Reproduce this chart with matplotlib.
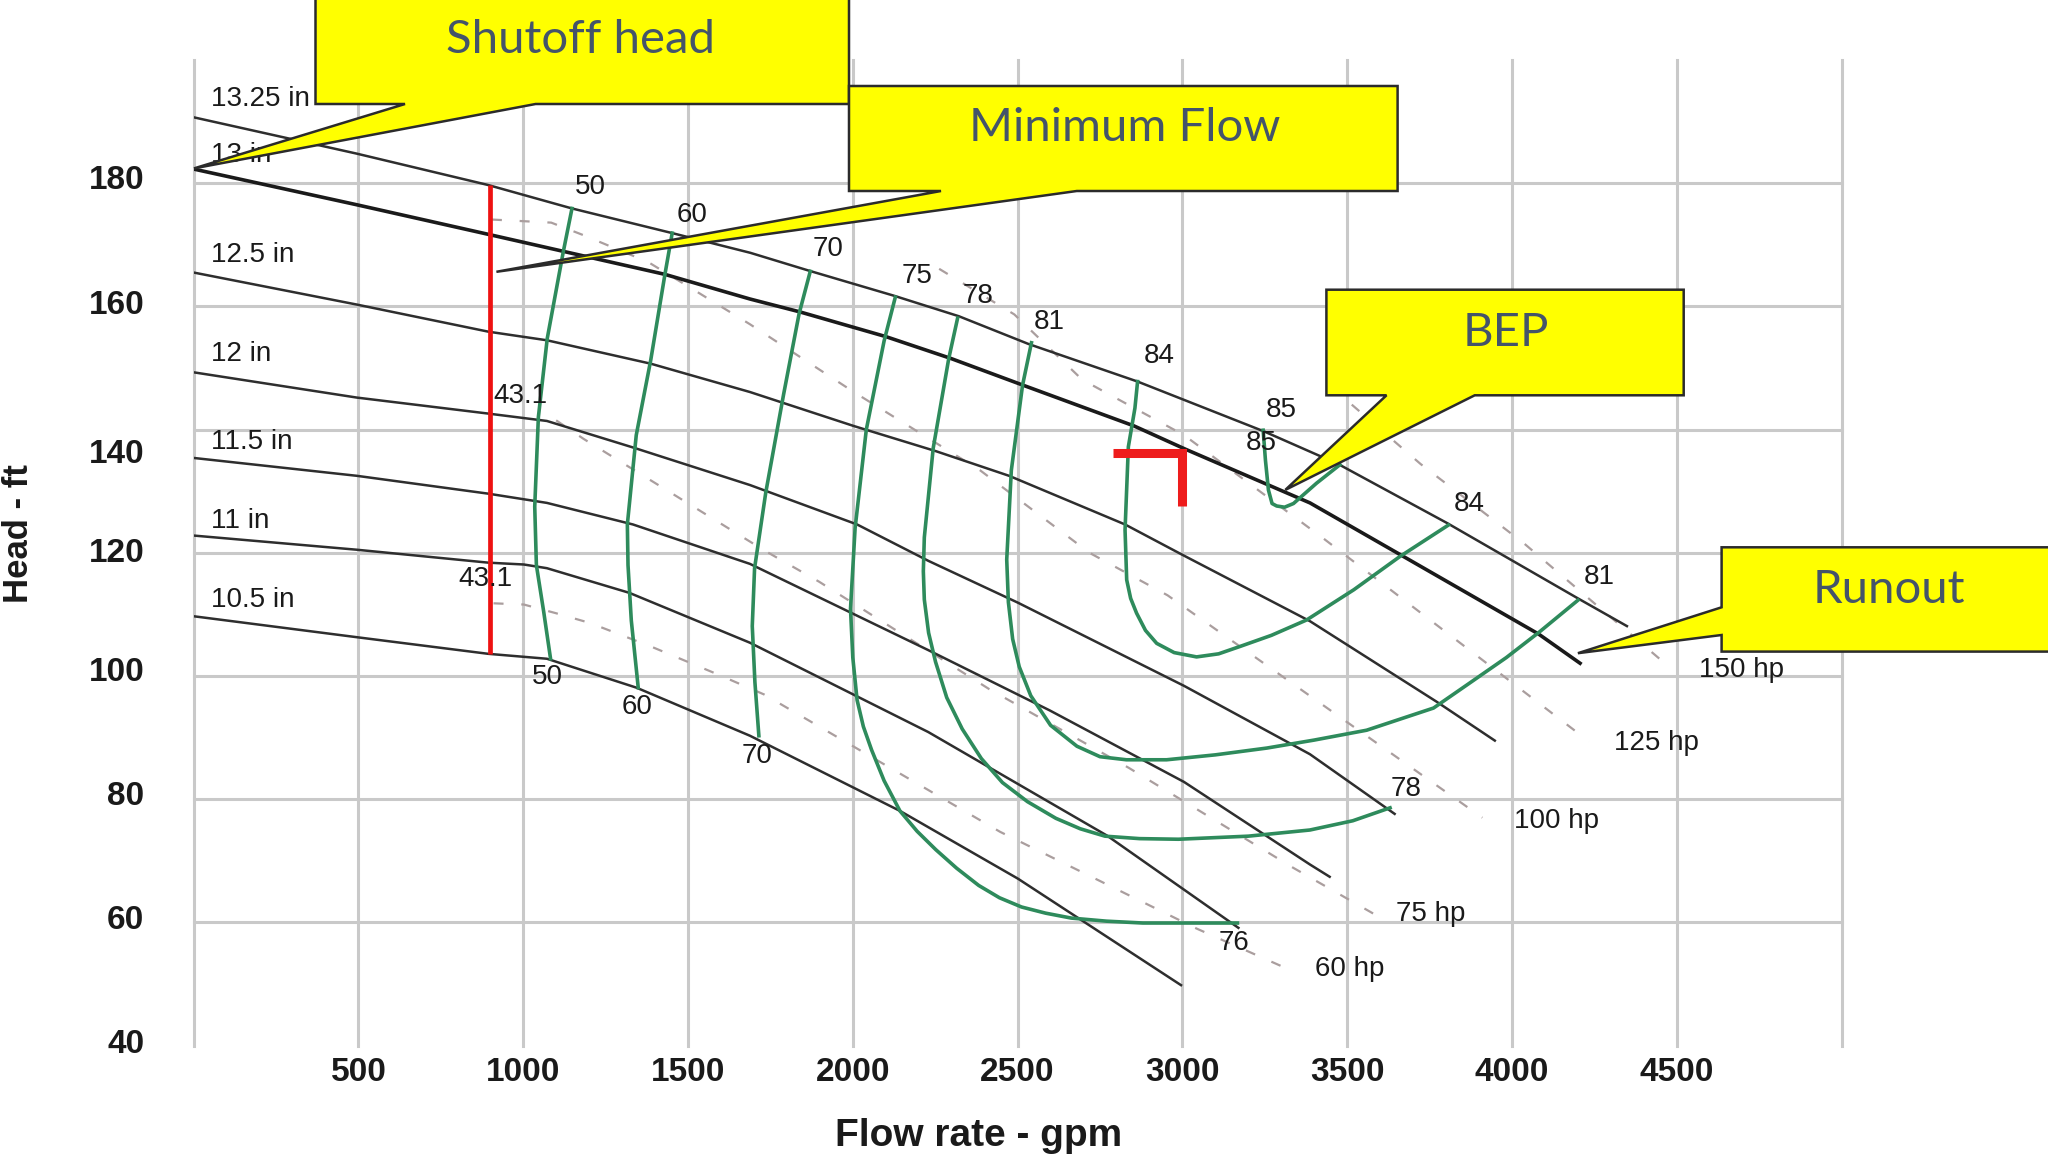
import matplotlib
matplotlib.use("Agg")
import matplotlib.pyplot as plt
from matplotlib.patches import Polygon

# ---------------- data (flow gpm, head ft) ----------------
# impeller diameter curves
q_d1325 = [0, 495, 894, 1148, 1452, 1689, 1867, 2127, 2322, 2533, 2864, 3248, 3473, 3804, 4200, 4352]
h_d1325 = [190.7, 184.8, 179.7, 175.9, 171.9, 168.7, 165.8, 161.7, 158.4, 153.9, 147.8, 139.7, 134.4, 124.8, 112.6, 108.0]
q_d13 = [0, 495, 894, 1430, 1688, 1840, 2100, 2295, 2517, 2853, 3010, 3387, 3674, 4081, 4211]
h_d13 = [182.3, 176.5, 171.7, 165.2, 161.2, 159.1, 155.1, 151.6, 147.2, 140.6, 136.8, 128.1, 119.3, 106.8, 101.9]
q_d125 = [0, 495, 894, 1072, 1387, 1688, 2002, 2252, 2474, 2826, 2999, 3387, 3772, 3951]
h_d125 = [165.5, 160.3, 155.9, 154.5, 150.7, 146.1, 140.6, 136.5, 132.5, 124.6, 119.7, 108.9, 95.8, 89.4]
q_d12 = [0, 495, 894, 1072, 1333, 1688, 2013, 2229, 2501, 3005, 3387, 3647]
h_d12 = [149.3, 145.2, 142.6, 141.4, 137.1, 131.0, 124.6, 118.7, 111.9, 98.4, 87.3, 77.5]
q_d115 = [0, 495, 894, 1072, 1333, 1688, 2229, 2598, 3005, 3387, 3450]
h_d115 = [135.4, 132.5, 129.6, 128.1, 124.6, 118.2, 104.2, 94.4, 82.8, 69.4, 67.3]
q_d11 = [0, 495, 894, 1002, 1072, 1322, 1688, 2229, 2771, 3173]
h_d11 = [122.8, 120.5, 118.4, 118.1, 117.5, 113.5, 105.4, 90.9, 74.1, 59.0]
q_d105 = [0, 495, 894, 1072, 1344, 1688, 2143, 2501, 2999]
h_d105 = [109.7, 106.3, 103.6, 102.8, 98.1, 90.3, 78.1, 67.1, 49.7]
diam_labels = ["13.25 in", "13 in", "12.5 in", "12 in", "11.5 in", "11 in", "10.5 in"]
diam_label_h = [193.6, 184.6, 168.4, 152.2, 138.0, 125.2, 112.4]

# efficiency curves (%)
q_e50 = [1148, 1121, 1073, 1046, 1035, 1040, 1062, 1083]
h_e50 = [175.9, 168.7, 154.8, 142.0, 127.5, 118.0, 110.5, 102.8]
q_e60 = [1452, 1430, 1387, 1343, 1316, 1318, 1328, 1349]
h_e60 = [171.9, 165.2, 151.3, 139.1, 124.6, 118.0, 109.0, 98.1]
q_e70 = [1871, 1837, 1790, 1736, 1702, 1695, 1703, 1715]
h_e70 = [165.7, 158.8, 145.7, 129.8, 117.5, 108.1, 99.0, 90.3]
q_e75 = [2129, 2095, 2041, 2007, 1993, 2000, 2013, 2032, 2057, 2095, 2143, 2195, 2252, 2315, 2382, 2445,
         2512, 2585, 2663, 2770, 2880, 3167]
h_e75 = [161.5, 154.4, 140.0, 124.0, 110.9, 103.0, 96.1, 91.8, 88.0, 83.0, 78.1, 74.8, 71.8, 68.8, 66.0, 64.0,
         62.5, 61.5, 60.7, 60.2, 59.9, 59.9]
q_e78 = [2318, 2291, 2244, 2217, 2214, 2217, 2230, 2251, 2285, 2332, 2390, 2454, 2530, 2616, 2690, 2765,
         2870, 2988, 3200, 3387, 3517, 3630]
h_e78 = [158.1, 151.5, 137.0, 122.5, 117.0, 112.4, 107.0, 102.3, 96.5, 91.4, 86.6, 82.7, 79.6, 76.9, 75.2, 74.0,
         73.6, 73.5, 74.0, 75.0, 76.5, 78.6]
q_e81 = [2542, 2515, 2481, 2467, 2472, 2485, 2505, 2540, 2600, 2680, 2750, 2830, 2952, 3100, 3256, 3400, 3559,
         3762, 3870, 3983, 4082, 4200]
h_e81 = [154.1, 147.2, 133.4, 118.9, 112.0, 106.0, 101.5, 96.8, 92.0, 88.6, 86.9, 86.4, 86.4, 87.2, 88.3, 89.6,
         91.2, 94.8, 98.8, 103.0, 107.1, 112.3]
q_e84 = [2864, 2856, 2836, 2826, 2831, 2843, 2861, 2888, 2922, 2975, 3043, 3110, 3175, 3270, 3377, 3520, 3660, 3807]
h_e84 = [147.8, 143.5, 137.2, 123.7, 115.6, 112.6, 110.2, 107.4, 105.3, 103.8, 103.1, 103.6, 104.8, 106.6, 109.1,
         114.0, 119.4, 124.5]
q_e85 = [3245, 3252, 3261, 3272, 3286, 3310, 3337, 3407, 3478]
h_e85 = [139.9, 135.0, 130.2, 128.0, 127.6, 127.4, 128.0, 131.3, 134.3]

eff_labels = ["50", "60", "70", "75", "78", "81", "84", "85", "85",
              "50", "60", "70", "76", "78", "81", "84"]
eff_label_q = [1203, 1512, 1925, 2196, 2379, 2596, 2929, 3299, 3239,
               1072, 1344, 1709, 3156, 3680, 4265, 3869]
eff_label_h = [179.4, 174.8, 169.3, 164.9, 161.7, 157.5, 151.9, 143.2, 137.8,
               99.9, 95.0, 87.0, 56.7, 81.6, 116.1, 128.0]

# power (hp) lines
q_p150 = [3450, 3723, 4037, 4487]
h_p150 = [147.0, 134.4, 121.5, 101.0]
q_p125 = [2262, 2490, 2696, 3005, 3431, 4233]
h_p125 = [166.1, 158.7, 148.1, 139.1, 122.2, 89.4]
q_p100 = [905, 1085, 1181, 1379, 1505, 1688, 2003, 2386, 2718, 2955, 3910]
h_p100 = [174.1, 173.6, 171.6, 167.2, 163.1, 157.1, 146.1, 133.4, 120.0, 113.1, 77.0]
q_p75 = [1100, 1183, 1731, 1898, 2413, 2837, 3335, 3590]
h_p75 = [141.5, 138.5, 120.4, 115.3, 97.9, 85.1, 68.9, 61.1]
q_p60 = [910, 1002, 1099, 1203, 1387, 1593, 1731, 2447, 3043, 3313, 3335]
h_p60 = [111.8, 111.6, 110.2, 108.6, 104.8, 100.2, 97.0, 74.7, 59.0, 52.6, 52.3]
hp_labels = ["150 hp", "125 hp", "100 hp", "75 hp", "60 hp"]
hp_label_q = [4568, 4308, 4005, 3649, 3401]
hp_label_h = [101.0, 89.1, 76.4, 61.4, 52.4]

npsh_labels = ["43.1", "43.1"]
npsh_q = [991, 886]
npsh_h = [145.5, 115.7]

# minimum flow line and BEP marker
minflow_q = [900, 900]
minflow_h = [103.6, 179.7]
bep_q = [2790, 2998, 2998]
bep_h = [136.2, 136.2, 127.6]

xtick_vals = [500, 1000, 1500, 2000, 2500, 3000, 3500, 4000, 4500]
ytick_vals = [180, 160, 140, 120, 100, 80, 60, 40]
ytick_pos = [180.5, 160.1, 136.0, 119.9, 100.6, 80.4, 60.3, 40.1]
grid_h = [60, 80, 100, 120, 140, 160, 180]
grid_v = [0, 500, 1000, 1500, 2000, 2500, 3000, 3500, 4000, 4500, 5000]

# ---------------- figure ----------------
W, H = 2048, 1154
fig = plt.figure(figsize=(W / 100, H / 100), dpi=100)
fig.patch.set_facecolor("white")
ax = fig.add_axes([193.6 / W, 1 - 1045.6 / H, (1841.6 - 193.6) / W, (1045.6 - 60) / H])
ax.set_xlim(0, 5000)
ax.set_ylim(40, 200)
for s in ax.spines.values():
    s.set_visible(False)
ax.set_xticks([])
ax.set_yticks([])

gcol = "#c9c9c9"
for g in grid_h:
    ax.plot([0, 5000], [g, g], color=gcol, lw=2.2, zorder=1, clip_on=False)
for g in grid_v:
    ax.plot([g, g], [40, 200], color=gcol, lw=2.2, zorder=1, clip_on=False)

# hp dashed lines
dash_col = "#aa9e9e"
for q, h in [(q_p150, h_p150), (q_p125, h_p125), (q_p100, h_p100), (q_p75, h_p75), (q_p60, h_p60)]:
    ax.plot(q, h, color=dash_col, lw=1.6, ls=(0, (4.5, 8.0)), zorder=2)

# impeller curves
for q, h in [(q_d1325, h_d1325), (q_d125, h_d125), (q_d12, h_d12),
             (q_d115, h_d115), (q_d11, h_d11), (q_d105, h_d105)]:
    ax.plot(q, h, color="#2e2e2e", lw=1.8, zorder=3, solid_capstyle="butt")
ax.plot(q_d13, h_d13, color="#1a1a1a", lw=2.6, zorder=3, solid_capstyle="butt")

# efficiency curves
gcol2 = "#2e8b5c"
for q, h in [(q_e50, h_e50), (q_e60, h_e60), (q_e70, h_e70), (q_e75, h_e75),
             (q_e78, h_e78), (q_e81, h_e81), (q_e84, h_e84), (q_e85, h_e85)]:
    ax.plot(q, h, color=gcol2, lw=2.6, zorder=4, solid_joinstyle="round")

# minimum flow + BEP marker
ax.plot(minflow_q, minflow_h, color="#ee1111", lw=3.4, zorder=5, solid_capstyle="butt")
ax.plot(bep_q, bep_h, color="#ee1c1c", lw=6.5, zorder=5, solid_capstyle="butt",
        solid_joinstyle="miter")

lab_font = dict(family=["Liberation Sans", "DejaVu Sans"], fontsize=20, color="#1a1a1a")
for t, y in zip(diam_labels, diam_label_h):
    ax.text(54, y, t, ha="left", va="center", zorder=6, **lab_font)
for t, q, y in zip(eff_labels, eff_label_q, eff_label_h):
    ax.text(q, y, t, ha="center", va="center", zorder=6, **lab_font)
for t, q, y in zip(hp_labels, hp_label_q, hp_label_h):
    ax.text(q, y, t, ha="left", va="center", zorder=6, clip_on=False, **lab_font)
for t, q, y in zip(npsh_labels, npsh_q, npsh_h):
    ax.text(q, y, t, ha="center", va="center", zorder=6, **lab_font)

tick_font = dict(family=["Liberation Sans", "DejaVu Sans"], fontsize=24, fontweight="bold",
                 color="#1a1a1a")
for v in xtick_vals:
    ax.text(v, 35.6, str(v), ha="center", va="center", clip_on=False, **tick_font)
for v, p in zip(ytick_vals, ytick_pos):
    ax.text(-150, p, str(v), ha="right", va="center", clip_on=False, **tick_font)

ax.text(2383, 25.3, "Flow rate - gpm", ha="center", va="center", clip_on=False,
        family=["Liberation Sans", "DejaVu Sans"], fontsize=28, fontweight="bold", color="#1a1a1a")
ax.text(-530, 123.2, "Head - ft", ha="center", va="center", rotation=90, clip_on=False,
        family=["Liberation Sans", "DejaVu Sans"], fontsize=25, fontweight="bold", color="#1a1a1a")

# ---------------- callouts (figure pixel overlay) ----------------
ov = fig.add_axes([0, 0, 1, 1], zorder=10)
ov.set_xlim(0, W)
ov.set_ylim(H, 0)
ov.axis("off")
ov.patch.set_visible(False)

callouts = [
    ("Shutoff head", (581, 40),
     [(315.5, -10), (849, -10), (849, 104), (535.6, 104), (194, 168.4), (405, 104), (315.5, 104)]),
    ("Minimum Flow", (1125, 128),
     [(849, 86), (1397.6, 86), (1397.6, 191), (1076.8, 191), (496.4, 271.8), (941, 191), (849, 191)]),
    ("BEP", (1506, 333),
     [(1326.4, 289.7), (1683.7, 289.7), (1683.7, 395.3), (1474.7, 395.3), (1285.3, 489.9),
      (1386.5, 395.3), (1326.4, 395.3)]),
    ("Runout", (1889, 590),
     [(1721.6, 547.3), (2070, 547.3), (2070, 651.6), (1721.6, 651.6), (1721.6, 635),
      (1577.9, 653.2), (1721.6, 607.3)]),
]
for text, (tx, ty), pts in callouts:
    ov.add_patch(Polygon(pts, closed=True, facecolor="#ffff00", edgecolor="#2b2b2b",
                         lw=1.8, joinstyle="miter", clip_on=False))
    ov.text(tx, ty, text, ha="center", va="center", color="#44546a",
            family=["Lato", "DejaVu Sans"], fontsize=34)

fig.savefig("out.png", dpi=100)
